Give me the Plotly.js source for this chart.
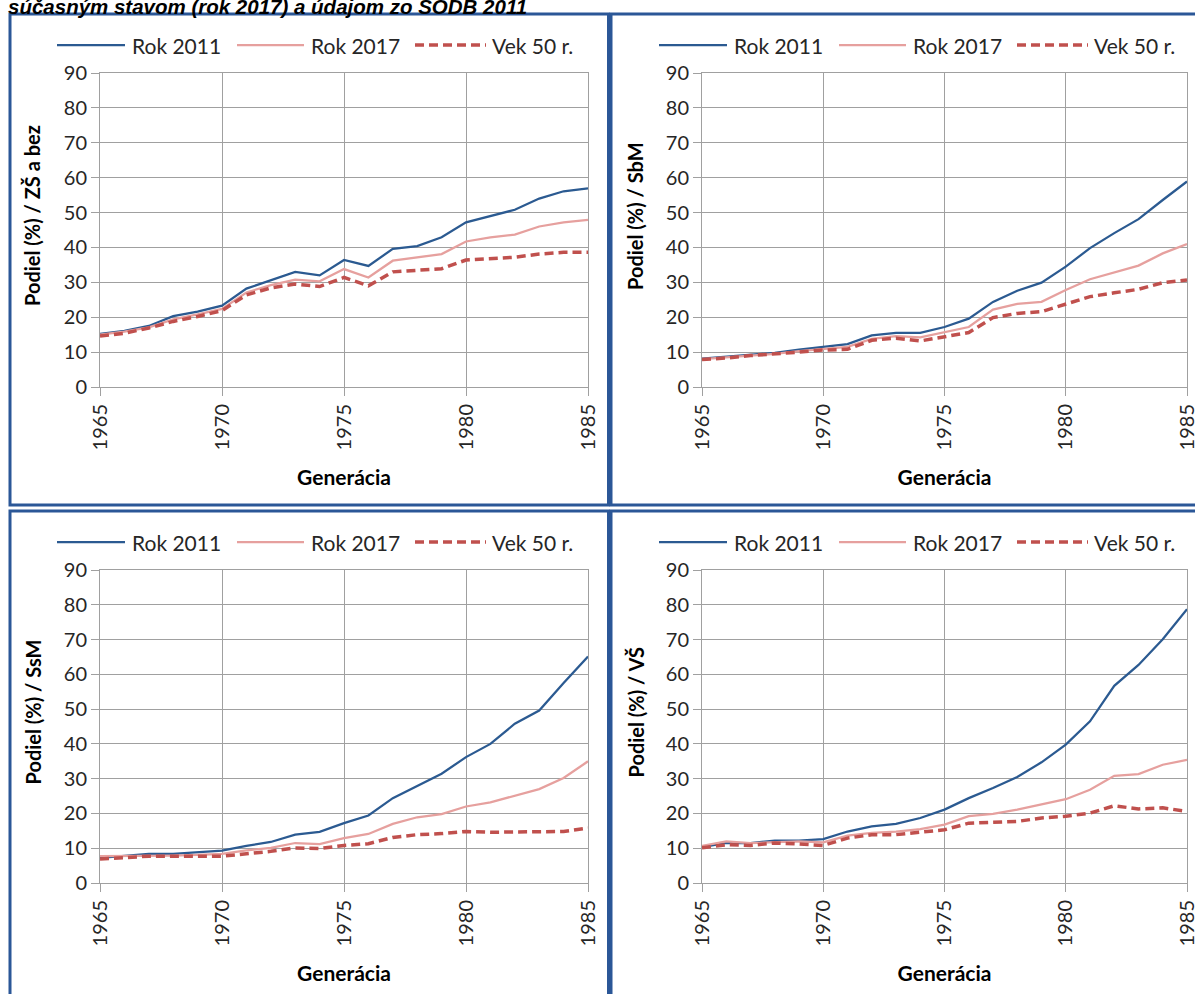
<!DOCTYPE html>
<html>
<head>
<meta charset="utf-8">
<script src="https://cdn.plot.ly/plotly-3.0.1.min.js"></script>
<style>html,body{margin:0;padding:0;background:#fff;}#chart{width:1195px;height:994px;}</style>
</head>
<body>
<div id="chart"></div>
<script>
const years = [1965,1966,1967,1968,1969,1970,1971,1972,1973,1974,1975,1976,1977,1978,1979,1980,1981,1982,1983,1984,1985];
const xTickVals = [1965,1970,1975,1980,1985];
const seriesNames = ['Rok 2011','Rok 2017','Vek 50 r.'];
const panelTitles = ['Podiel (%) / ZŠ a bez','Podiel (%) / SbM','Podiel (%) / SsM','Podiel (%) / VŠ'];
const xTitle = 'Generácia';
const chartTitle = 'súčasným stavom (rok 2017) a údajom zo SODB 2011';

const zs2011 = [15.2,16.1,17.5,20.3,21.6,23.3,28.2,30.5,33.0,32.0,36.4,34.7,39.6,40.4,42.9,47.2,49.1,50.8,54.0,56.1,56.9];
const zs2017 = [15.0,15.9,17.1,19.4,20.8,22.4,27.1,29.2,30.8,30.3,33.8,31.4,36.2,37.1,38.1,41.7,42.9,43.7,46.0,47.2,47.9];
const zs50   = [14.6,15.4,16.9,18.8,20.2,21.9,26.4,28.4,29.5,28.8,31.4,29.0,33.0,33.4,33.9,36.4,36.7,37.2,38.1,38.6,38.6];

const sbm2011 = [8.1,8.6,9.1,9.8,10.7,11.5,12.3,14.8,15.5,15.5,17.2,19.6,24.4,27.6,29.9,34.5,39.8,44.1,48.1,53.6,58.9];
const sbm2017 = [8.0,8.5,9.0,9.5,10.3,11.0,11.5,13.8,14.6,14.2,15.8,17.2,22.2,23.8,24.4,27.8,30.9,32.8,34.8,38.3,41.0];
const sbm50   = [7.9,8.3,9.0,9.4,10.0,10.6,10.8,13.4,14.0,13.2,14.4,15.6,19.9,21.1,21.6,23.8,25.9,27.0,28.0,29.9,30.7];

const ssm2011 = [7.2,7.7,8.4,8.4,8.8,9.3,10.7,11.8,13.9,14.7,17.2,19.4,24.4,27.8,31.4,36.2,40.0,45.8,49.6,57.5,65.1];
const ssm2017 = [7.7,7.7,7.9,7.9,8.1,8.4,9.4,10.1,11.5,11.2,12.9,14.1,17.0,18.9,19.8,22.0,23.2,25.2,27.0,30.2,35.0];
const ssm50   = [6.9,7.2,7.7,7.7,7.7,7.7,8.4,9.1,10.1,9.9,10.8,11.3,13.1,13.9,14.2,14.8,14.6,14.6,14.6,14.8,15.8];

const vs2011 = [10.3,11.5,11.5,12.2,12.2,12.6,14.8,16.3,17.0,18.7,21.1,24.4,27.3,30.5,34.7,39.8,46.5,56.7,62.7,70.1,78.7];
const vs2017 = [10.7,12.0,11.5,11.8,12.0,11.7,13.6,14.4,14.8,15.5,16.8,19.2,19.9,21.1,22.5,24.1,26.8,30.8,31.3,34.0,35.4];
const vs50   = [10.1,11.0,10.8,11.5,11.2,10.8,12.9,13.9,13.9,14.6,15.3,17.2,17.5,17.7,18.7,19.2,20.1,22.2,21.3,21.6,20.6];

const panelData = [
  [zs2011, zs2017, zs50],
  [sbm2011, sbm2017, sbm50],
  [ssm2011, ssm2017, ssm50],
  [vs2011, vs2017, vs50]
];

const W = 1195, H = 994;
const px = p => p / W;
const py = p => 1 - p / H;

const lineStyles = [
  {color:'#2B5A91', width:2.25, dash:'solid'},
  {color:'#E6A09E', width:2.25, dash:'solid'},
  {color:'#C0504D', width:3.5, dash:'9px,5px'}
];

// panel geometry in pixels
const geo = [
  {x0:100, x1:588, y0:73, y1:387, bx0:10, bx1:608.5, by0:14, by1:505, ox:0, oy:0, tx:32},
  {x0:702, x1:1187, y0:73, y1:387, bx0:611, bx1:1210, by0:14, by1:505, ox:602, oy:0, tx:635},
  {x0:100, x1:588, y0:570, y1:883, bx0:10, bx1:608.5, by0:511, by1:1010, ox:0, oy:497, tx:32},
  {x0:702, x1:1187, y0:570, y1:883, bx0:611, bx1:1210, by0:511, by1:1010, ox:602, oy:497, tx:635}
];

const fontFam = 'Lato, "Open Sans", sans-serif';
const textCol = '#262626';
const gridCol = '#A0A0A0';

const traces = [];
const layout = {
  width: W, height: H,
  margin: {l:0, r:0, t:0, b:0},
  paper_bgcolor: '#fff', plot_bgcolor: '#fff',
  showlegend: false,
  shapes: [], annotations: []
};

geo.forEach((g, i) => {
  const n = i + 1;
  const xa = 'xaxis' + (n === 1 ? '' : n);
  const ya = 'yaxis' + (n === 1 ? '' : n);
  const xr = 'x' + (n === 1 ? '' : n);
  const yr = 'y' + (n === 1 ? '' : n);
  panelData[i].forEach((vals, k) => {
    traces.push({
      x: years, y: vals, type: 'scatter', mode: 'lines',
      name: seriesNames[k], xaxis: xr, yaxis: yr,
      line: lineStyles[k], hoverinfo: 'skip'
    });
  });
  layout[xa] = {
    domain: [px(g.x0), px(g.x1)], anchor: yr,
    range: [1965, 1985], tickvals: xTickVals, tickangle: -90,
    ticklabeloverflow: 'allow',
    showgrid: true, gridcolor: gridCol, gridwidth: 1, zeroline: false,
    showline: true, linecolor: gridCol, linewidth: 1, mirror: true,
    ticks: 'outside', ticklen: 8, tickcolor: gridCol, tickwidth: 1,
    tickfont: {family: fontFam, size: 20, color: textCol},
    title: {text: xTitle, font: {family: fontFam, size: 21, color: '#000', weight: 'bold'}, standoff: 20}
  };
  layout[ya] = {
    domain: [py(g.y1), py(g.y0)], anchor: xr,
    range: [0, 90], dtick: 10,
    ticklabeloverflow: 'allow',
    showgrid: true, gridcolor: gridCol, gridwidth: 1, zeroline: false,
    showline: true, linecolor: gridCol, linewidth: 1, mirror: true,
    ticks: 'outside', ticklen: 8, tickcolor: gridCol, tickwidth: 1,
    tickfont: {family: fontFam, size: 20, color: textCol}
  };
  // y-axis title (offset upward as in the reference)
  layout.annotations.push({xref:'paper', yref:'paper', x: px(g.tx), y: py((g.y0 + g.y1) / 2 - 14),
    xanchor:'center', yanchor:'middle', showarrow:false, textangle:-90,
    text: panelTitles[i], font: {family: fontFam, size: 20, color:'#000', weight:'bold'}});
  // panel border
  layout.shapes.push({type:'rect', xref:'paper', yref:'paper',
    x0: px(g.bx0), x1: px(g.bx1), y0: py(g.by1), y1: py(g.by0),
    line: {color:'#2B5797', width:3}, fillcolor:'rgba(0,0,0,0)', layer:'above'});
  // manual legend
  const ly = 45 + g.oy;
  const items = [[57,125,130],[237,304,309],[415,486,490]];
  items.forEach((it, k) => {
    layout.shapes.push({type:'line', xref:'paper', yref:'paper',
      x0: px(it[0] + g.ox), x1: px(it[1] + g.ox), y0: py(ly), y1: py(ly),
      line: lineStyles[k]});
    layout.annotations.push({xref:'paper', yref:'paper', x: px(it[2] + g.ox), y: py(ly),
      xanchor:'left', yanchor:'middle', showarrow:false, text: seriesNames[k],
      font: {family: fontFam, size: 21, color: textCol}});
  });
});

layout.annotations.push({xref:'paper', yref:'paper', x: px(6), y: py(7),
  xanchor:'left', yanchor:'middle', showarrow:false,
  text: '<b><i>' + chartTitle + '</i></b>',
  font: {family: '"Liberation Sans", Arial, sans-serif', size: 20.5, color:'#000'}});

Plotly.newPlot('chart', traces, layout, {staticPlot: true, displayModeBar: false});
</script>
</body>
</html>
